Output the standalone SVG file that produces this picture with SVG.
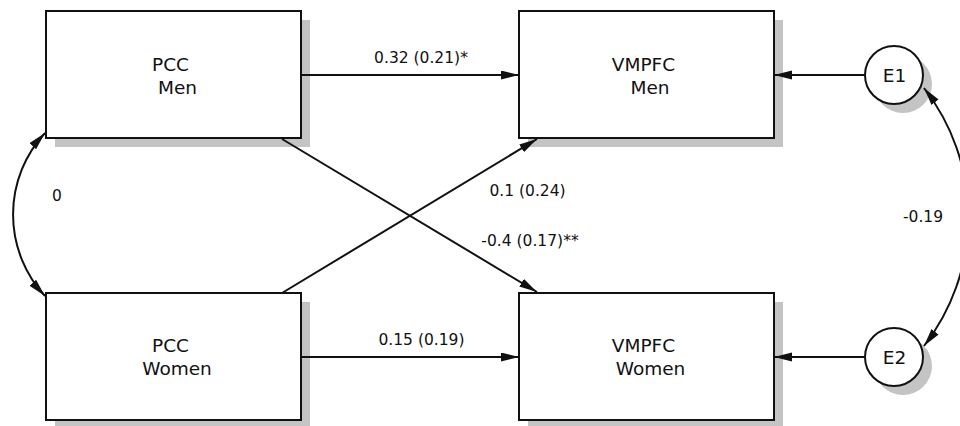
<svg xmlns="http://www.w3.org/2000/svg" width="960" height="426" viewBox="0 0 960 426">
  <style>
    .shadow { fill: #c4c4c4; stroke: none; }
    .box { fill: #ffffff; stroke: #111111; stroke-width: 2; }
    .label { font-family: "DejaVu Sans", "Liberation Sans", sans-serif; font-size: 18.5px; fill: #111111; text-anchor: middle; }
    .coef { font-family: "DejaVu Sans", "Liberation Sans", sans-serif; font-size: 15.5px; fill: #111111; text-anchor: middle; }
    .edge { fill: none; stroke: #111111; stroke-width: 2; }
  </style>
  <defs>
    <marker id="arrow" markerUnits="userSpaceOnUse" markerWidth="19" markerHeight="10" refX="18" refY="4.5" orient="auto-start-reverse">
      <path d="M0,0 L18,4.5 L0,9 z" fill="#111111"/>
    </marker>
  </defs>

  <rect width="960" height="426" fill="#ffffff"/>

  <!-- observed variables -->
  <g id="pcc-men">
    <rect class="shadow" x="55" y="20" width="255" height="127"/>
    <rect class="box" x="46" y="11" width="255" height="127"/>
    <text class="label" x="170.5" y="71">PCC</text>
    <text class="label" x="177.5" y="94">Men</text>
  </g>
  <g id="pcc-women">
    <rect class="shadow" x="55" y="302" width="255" height="127"/>
    <rect class="box" x="46" y="293" width="255" height="127"/>
    <text class="label" x="170.5" y="352">PCC</text>
    <text class="label" x="177" y="375">Women</text>
  </g>
  <g id="vmpfc-men">
    <rect class="shadow" x="528" y="20" width="255" height="127"/>
    <rect class="box" x="519" y="11" width="255" height="127"/>
    <text class="label" x="643.5" y="71">VMPFC</text>
    <text class="label" x="650" y="94">Men</text>
  </g>
  <g id="vmpfc-women">
    <rect class="shadow" x="528" y="302" width="255" height="127"/>
    <rect class="box" x="519" y="293" width="255" height="127"/>
    <text class="label" x="643.5" y="352">VMPFC</text>
    <text class="label" x="650.5" y="375">Women</text>
  </g>

  <!-- residual terms -->
  <g id="e1">
    <circle class="shadow" cx="903" cy="84" r="29"/>
    <circle class="box" cx="894" cy="75" r="29"/>
    <text class="label" x="894.5" y="82">E1</text>
  </g>
  <g id="e2">
    <circle class="shadow" cx="903" cy="366" r="29"/>
    <circle class="box" cx="894" cy="357" r="29"/>
    <text class="label" x="894.5" y="364">E2</text>
  </g>

  <!-- paths and covariances -->
  <g id="connectors">
    <line class="edge" x1="301" y1="75" x2="519" y2="75" marker-end="url(#arrow)"/>
    <line class="edge" x1="301" y1="357" x2="519" y2="357" marker-end="url(#arrow)"/>
    <line class="edge" x1="282" y1="139" x2="537" y2="292" marker-end="url(#arrow)"/>
    <line class="edge" x1="282" y1="293" x2="537" y2="139" marker-end="url(#arrow)"/>
    <line class="edge" x1="865" y1="75" x2="774" y2="75" marker-end="url(#arrow)"/>
    <line class="edge" x1="865" y1="357" x2="774" y2="357" marker-end="url(#arrow)"/>
    <path class="edge" d="M45,133 A120,120 0 0 0 45,296" marker-start="url(#arrow)" marker-end="url(#arrow)"/>
    <path class="edge" d="M924,88 A210,210 0 0 1 924,346" marker-start="url(#arrow)" marker-end="url(#arrow)"/>

    <text class="coef" x="421" y="63">0.32 (0.21)*</text>
    <text class="coef" x="421.5" y="345">0.15 (0.19)</text>
    <text class="coef" x="527.5" y="196">0.1 (0.24)</text>
    <text class="coef" x="530" y="246">-0.4 (0.17)**</text>
    <text class="coef" x="57" y="201">0</text>
    <text class="coef" x="923" y="222">-0.19</text>
  </g>
</svg>
